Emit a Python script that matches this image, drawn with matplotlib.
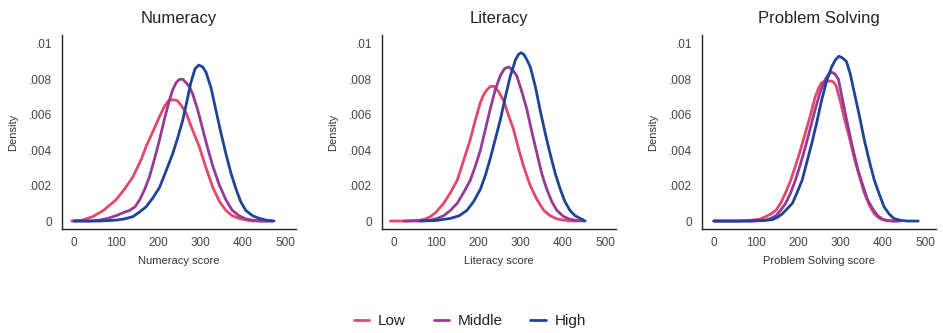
import matplotlib.pyplot as plt

# score-density curves (x = score, y = density)
NUM_LOW_X = [-5, 20, 45, 70, 100, 120, 140, 160, 171, 190, 203, 215, 225, 234, 245, 255, 266, 280, 297, 313, 329, 345, 360, 375, 391, 410, 423, 445, 470]
NUM_LOW_Y = [0.0, 0.00005, 0.00025, 0.0006, 0.0012, 0.0018, 0.0025, 0.0035, 0.0042, 0.0052, 0.0059, 0.0065, 0.0068, 0.00685, 0.0068, 0.0065, 0.0061, 0.0052, 0.0042, 0.003, 0.0019, 0.0011, 0.0006, 0.0003, 0.00015, 0.00005, 0.0, 0.0, 0.0]
NUM_MID_X = [0, 40, 61, 80, 100, 120, 132, 145, 156, 168, 179, 191, 203, 215, 226, 234, 242, 250, 258, 266, 273, 281, 293, 305, 317, 329, 345, 360, 375, 391, 407, 423, 445, 470]
NUM_MID_Y = [0.0, 0.0, 0.00005, 0.00015, 0.0003, 0.0005, 0.0006, 0.0008, 0.0012, 0.0018, 0.0025, 0.0035, 0.0046, 0.0058, 0.0068, 0.0074, 0.0078, 0.008, 0.008, 0.0078, 0.0076, 0.0072, 0.0063, 0.0052, 0.0041, 0.0031, 0.002, 0.0012, 0.0006, 0.0003, 0.00012, 0.00005, 0.0, 0.0]
NUM_HIGH_X = [0, 60, 100, 120, 140, 155, 171, 187, 203, 218, 234, 246, 258, 268, 277, 287, 296, 305, 313, 325, 336, 348, 360, 372, 384, 395, 407, 423, 439, 455, 474]
NUM_HIGH_Y = [0.0, 0.0, 0.00005, 0.00012, 0.00025, 0.0005, 0.0008, 0.0013, 0.0019, 0.0028, 0.0038, 0.0047, 0.0057, 0.0068, 0.0078, 0.0086, 0.0088, 0.0087, 0.0084, 0.0075, 0.0063, 0.005, 0.0038, 0.0027, 0.0018, 0.0011, 0.0006, 0.0003, 0.00015, 0.00005, 0.0]

LIT_LOW_X = [-8, 30, 63, 75, 87, 100, 118, 134, 150, 165, 181, 193, 205, 212, 220, 229, 238, 248, 260, 271, 283, 295, 307, 323, 339, 355, 370, 386, 402, 420, 433]
LIT_LOW_Y = [0.0, 0.0, 0.00005, 0.00012, 0.00025, 0.0005, 0.001, 0.0016, 0.0023, 0.0034, 0.0046, 0.0057, 0.0067, 0.0071, 0.0074, 0.0076, 0.0076, 0.0073, 0.0068, 0.006, 0.0052, 0.0041, 0.0031, 0.002, 0.0012, 0.0006, 0.0003, 0.00012, 0.00005, 0.0, 0.0]
LIT_MID_X = [24, 60, 87, 103, 118, 134, 150, 165, 181, 193, 205, 216, 228, 240, 252, 262, 272, 282, 291, 303, 315, 327, 339, 350, 362, 374, 386, 402, 417, 433, 449]
LIT_MID_Y = [0.0, 0.0, 0.00005, 0.00015, 0.0003, 0.0006, 0.001, 0.0016, 0.0023, 0.0031, 0.004, 0.0051, 0.0063, 0.0074, 0.0082, 0.0086, 0.0087, 0.0085, 0.0082, 0.0073, 0.0063, 0.005, 0.0038, 0.0027, 0.0018, 0.0011, 0.0006, 0.00025, 0.0001, 0.00003, 0.0]
LIT_HIGH_X = [63, 100, 134, 155, 173, 189, 205, 217, 228, 240, 252, 264, 276, 288, 295, 301, 308, 315, 323, 335, 346, 358, 370, 382, 394, 405, 417, 429, 441, 453]
LIT_HIGH_Y = [0.0, 0.00003, 0.00015, 0.0003, 0.0006, 0.0011, 0.0018, 0.0026, 0.0035, 0.0046, 0.0057, 0.007, 0.0082, 0.0091, 0.0094, 0.0095, 0.0094, 0.0091, 0.0087, 0.0076, 0.0063, 0.005, 0.0038, 0.0027, 0.0018, 0.0011, 0.0006, 0.0003, 0.00015, 0.0]

PS_LOW_X = [0, 60, 92, 110, 123, 135, 147, 158, 170, 182, 193, 205, 217, 229, 240, 248, 255, 265, 279, 285, 290, 300, 310, 322, 333, 345, 356, 368, 380, 392, 403, 420, 434]
PS_LOW_Y = [0.0, 0.0, 0.00005, 0.00012, 0.00025, 0.0004, 0.0006, 0.001, 0.0016, 0.0023, 0.0031, 0.004, 0.005, 0.006, 0.007, 0.0075, 0.0078, 0.0079, 0.0079, 0.0078, 0.0076, 0.0067, 0.0057, 0.0046, 0.0035, 0.0025, 0.0016, 0.0009, 0.0004, 0.00015, 0.00005, 0.0, 0.0]
PS_MID_X = [0, 90, 123, 135, 147, 158, 170, 182, 193, 205, 217, 229, 240, 252, 264, 272, 279, 287, 295, 306, 318, 330, 341, 353, 364, 376, 388, 400, 411, 425, 442]
PS_MID_Y = [0.0, 0.0, 0.00005, 0.00015, 0.0003, 0.0006, 0.001, 0.0016, 0.0023, 0.0032, 0.0042, 0.0053, 0.0063, 0.0073, 0.008, 0.0083, 0.0084, 0.0083, 0.008, 0.0067, 0.0053, 0.004, 0.0029, 0.002, 0.0012, 0.0007, 0.0003, 0.0001, 0.00003, 0.0, 0.0]
PS_HIGH_X = [0, 80, 120, 139, 150, 162, 174, 186, 197, 209, 220, 232, 244, 255, 267, 279, 288, 296, 305, 314, 323, 333, 345, 356, 368, 380, 392, 403, 415, 426, 440, 457, 484]
PS_HIGH_Y = [0.0, 0.0, 0.00003, 0.00008, 0.0002, 0.0004, 0.0007, 0.001, 0.0016, 0.0023, 0.0033, 0.0044, 0.0056, 0.0068, 0.0079, 0.0087, 0.0091, 0.0093, 0.0092, 0.009, 0.0083, 0.0072, 0.0059, 0.0046, 0.0034, 0.0023, 0.0015, 0.0008, 0.0004, 0.00015, 0.00005, 0.0, 0.0]

PANELS = ["Numeracy", "Literacy", "Problem Solving"]
GROUPS = ["Low", "Middle", "High"]
COLORS = ["#e4476c", "#943b97", "#1f4496"]
CURVES = [
    [(NUM_LOW_X, NUM_LOW_Y), (NUM_MID_X, NUM_MID_Y), (NUM_HIGH_X, NUM_HIGH_Y)],
    [(LIT_LOW_X, LIT_LOW_Y), (LIT_MID_X, LIT_MID_Y), (LIT_HIGH_X, LIT_HIGH_Y)],
    [(PS_LOW_X, PS_LOW_Y), (PS_MID_X, PS_MID_Y), (PS_HIGH_X, PS_HIGH_Y)],
]
X_TICKS = [0, 100, 200, 300, 400, 500]
Y_TICKS = [0, 0.002, 0.004, 0.006, 0.008, 0.01]
Y_LABELS = ["0", ".002", ".004", ".006", ".008", ".01"]

plt.rcParams["font.family"] = ["Liberation Sans", "DejaVu Sans"]
plt.rcParams["text.color"] = "#222222"

fig = plt.figure(figsize=(9.43, 3.33), dpi=100)
lefts = [62, 382, 702]
handles = []
for i, (name, curves) in enumerate(zip(PANELS, CURVES)):
    ax = fig.add_axes([lefts[i] / 943, 104 / 333, 234 / 943, 194 / 333])
    for (x, y), col, grp in zip(curves, COLORS, GROUPS):
        (ln,) = ax.plot(x, y, color=col, lw=2.0, solid_capstyle="round",
                        solid_joinstyle="round", label=grp)
        if i == 0:
            handles.append(ln)
    ax.set_xlim(-28, 526)
    ax.set_ylim(-0.00045, 0.0105)
    ax.set_xticks(X_TICKS)
    ax.set_yticks(Y_TICKS)
    ax.set_yticklabels(Y_LABELS)
    ax.tick_params(length=0, labelsize=8.5, colors="#444444", pad=6)
    ax.tick_params(axis="y", pad=7)
    for s in ("top", "right"):
        ax.spines[s].set_visible(False)
    for s in ("left", "bottom"):
        ax.spines[s].set_linewidth(1.0)
        ax.spines[s].set_color("#222222")
    ax.set_title(name, fontsize=12, pad=9)
    ax.set_xlabel(f"{name} score", fontsize=8, labelpad=5, color="#333333")
    ax.set_ylabel("Density", fontsize=8, labelpad=8, color="#333333")

fig.legend(handles, GROUPS, loc="center", bbox_to_anchor=(470 / 943, 1 - 321 / 333),
           ncol=3, frameon=False, fontsize=11, handlelength=1.0, handletextpad=0.6,
           columnspacing=1.8)

fig.savefig("out.png", dpi=100)
